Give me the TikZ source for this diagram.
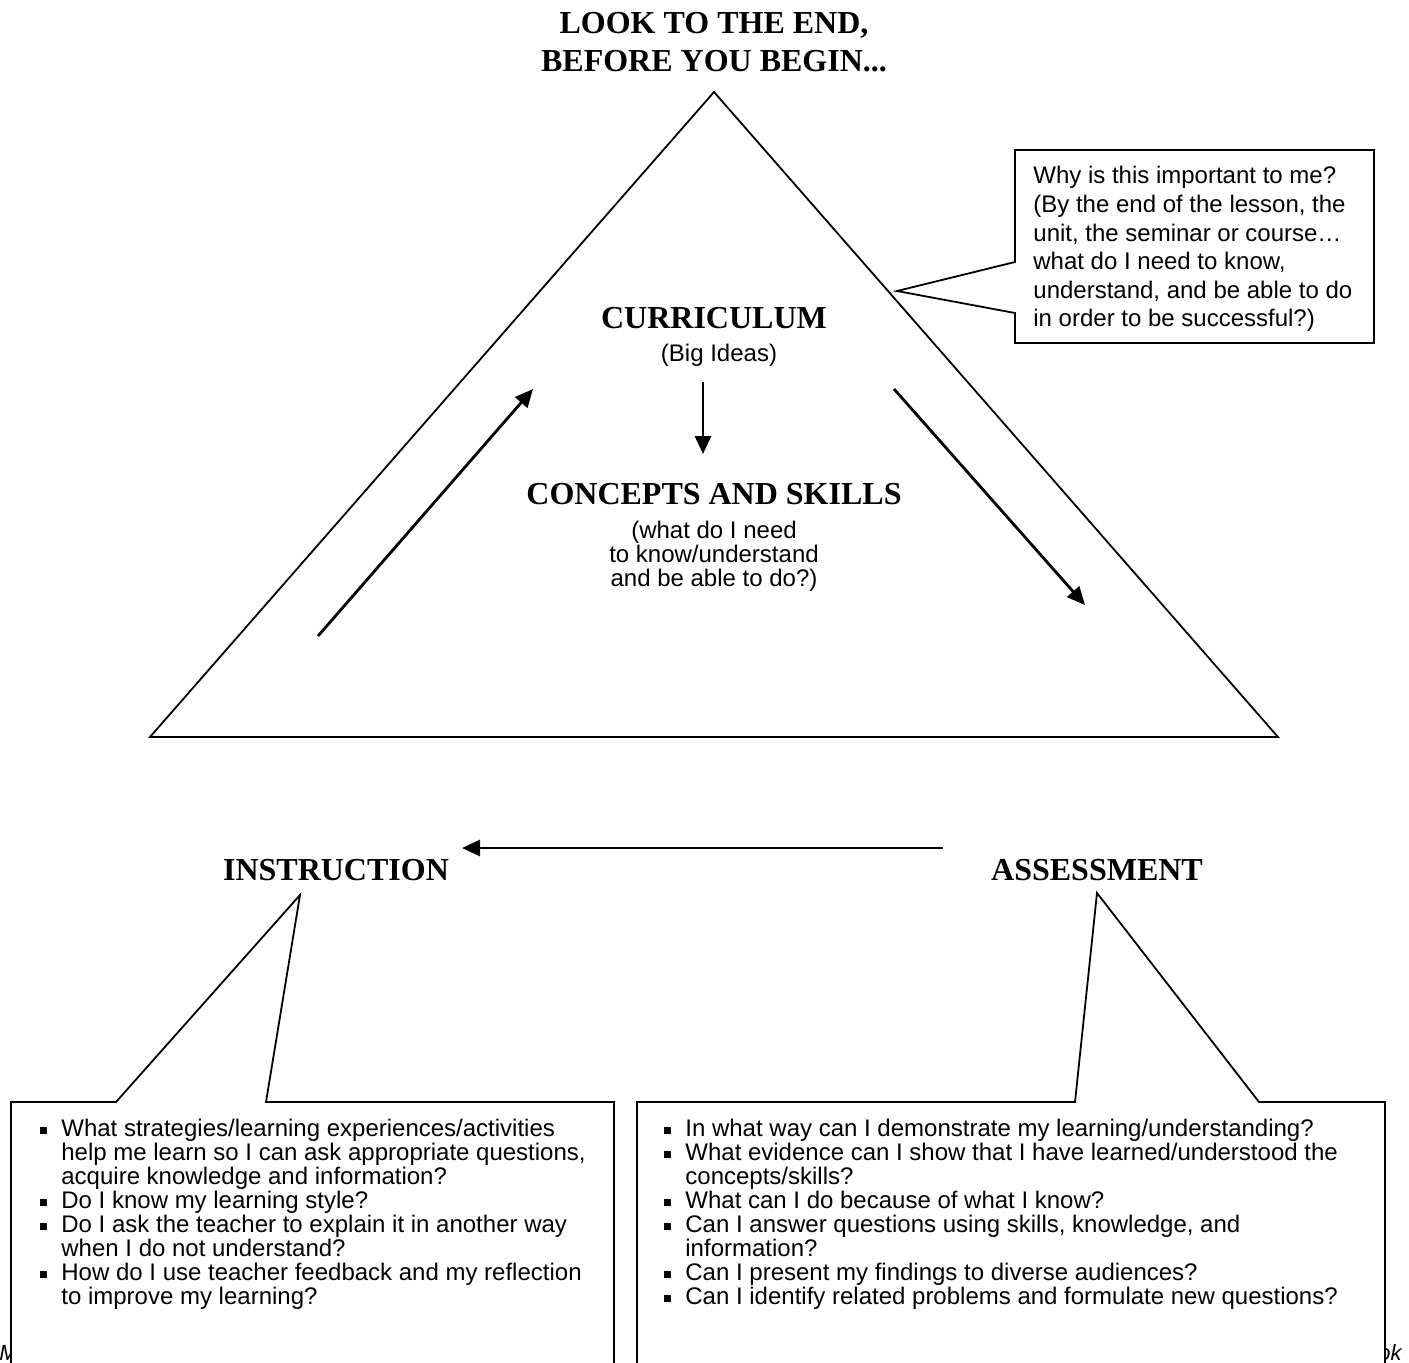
\documentclass[tikz,border=0pt]{standalone}
\usepackage{fontspec}
\setmainfont{Liberation Serif}
\setsansfont{Liberation Sans}
\usetikzlibrary{arrows.meta}
\newcommand{\bulsq}{\makebox[10.5pt][l]{\raisebox{1.6pt}{\rule{3.4pt}{3.4pt}}}}
\newcommand{\bulind}{\hspace*{10.5pt}}
\begin{document}
\begin{tikzpicture}[x=0.5pt,y=-0.5pt,
  outl/.style={line width=0.9pt, line join=miter},
  arr/.style={line width=1.4pt, -{Triangle[length=9pt,width=8pt]}},
  heading/.style={font=\fontsize{16}{19}\selectfont\bfseries, inner sep=0pt},
  sanstxt/.style={font=\sffamily\fontsize{12}{12}\selectfont, inner sep=0pt},
  calltxt/.style={font=\sffamily\fontsize{12}{14.3}\selectfont, inner sep=0pt, align=left},
  listtxt/.style={font=\sffamily\fontsize{12}{12}\selectfont, inner sep=0pt, align=left},
  foot/.style={font=\sffamily\itshape\fontsize{11}{13}\selectfont, inner sep=0pt}]
\useasboundingbox (0,0) rectangle (1409,1362);
\clip (0,0) rectangle (1409,1362);
\fill[white] (0,0) rectangle (1409,1362);

% title
\node[heading, anchor=base] (t1) at (714,33) {LOOK TO THE END,};
\node[heading, anchor=base] (t2) at (714,71) {BEFORE YOU BEGIN...};

% big triangle
\coordinate (apex) at (714,92);
\coordinate (bl) at (150,737);
\coordinate (br) at (1278,737);
\draw[outl] (apex) -- (br) -- (bl) -- cycle;

% top right callout
\coordinate (ctip) at (897,291);
\draw[outl, fill=white] (1015,150) -- (1374,150) -- (1374,343) -- (1015,343) -- (1015,313) -- (ctip) -- (1015,262) -- cycle;
\node[calltxt, anchor=north west] (why) at (1033,166) {Why is this important to me?\\(By the end of the lesson, the\\unit, the seminar or course…\\what do I need to know,\\understand, and be able to do\\in order to be successful?)};

% inside triangle
\node[heading, anchor=base] (curr) at (714,328) {CURRICULUM};
\node[sanstxt, anchor=base] (big) at (719,361) {(Big Ideas)};
\node[heading, anchor=base] (cs) at (714,504) {CONCEPTS AND SKILLS};
\node[sanstxt, anchor=north, align=center] (csq) at (714,521) {(what do I need\\to know/understand\\and be able to do?)};

\coordinate (d1) at (703,382);
\coordinate (d2) at (703,454);
\draw[arr] (d1) -- (d2);
\coordinate (l1) at (318,636);
\coordinate (l2) at (533,389);
\draw[arr] (l1) -- (l2);
\coordinate (r1) at (894,389);
\coordinate (r2) at (1085,605);
\draw[arr] (r1) -- (r2);

% instruction / assessment
\node[heading, anchor=base] (instr) at (336,880) {INSTRUCTION};
\node[heading, anchor=base] (assess) at (1097,880) {ASSESSMENT};
\coordinate (h1) at (943,848);
\coordinate (h2) at (462,848);
\draw[arr] (h1) -- (h2);

% footer (partly hidden)
\node[foot, anchor=base west] (fm) at (-1,1360) {M};
\node[foot, anchor=base east] (fk) at (1402,1360) {ok};

% bottom callouts
\coordinate (itip) at (300,895);
\draw[outl, fill=white] (11,1102) -- (116,1102) -- (itip) -- (266,1102) -- (614,1102) -- (614,1420) -- (11,1420) -- cycle;
\coordinate (atip) at (1097,893);
\draw[outl, fill=white] (637,1102) -- (1075,1102) -- (atip) -- (1259,1102) -- (1385,1102) -- (1385,1420) -- (637,1420) -- cycle;

\node[listtxt, anchor=north west] (ilist) at (40,1119) {\bulsq What strategies/learning experiences/activities\\
\bulind help me learn so I can ask appropriate questions,\\
\bulind acquire knowledge and information?\\
\bulsq Do I know my learning style?\\
\bulsq Do I ask the teacher to explain it in another way\\
\bulind when I do not understand?\\
\bulsq How do I use teacher feedback and my reflection\\
\bulind to improve my learning?};

\node[listtxt, anchor=north west] (alist) at (664,1119) {\bulsq In what way can I demonstrate my learning/understanding?\\
\bulsq What evidence can I show that I have learned/understood the\\
\bulind concepts/skills?\\
\bulsq What can I do because of what I know?\\
\bulsq Can I answer questions using skills, knowledge, and\\
\bulind information?\\
\bulsq Can I present my findings to diverse audiences?\\
\bulsq Can I identify related problems and formulate new questions?};
\end{tikzpicture}
\end{document}
